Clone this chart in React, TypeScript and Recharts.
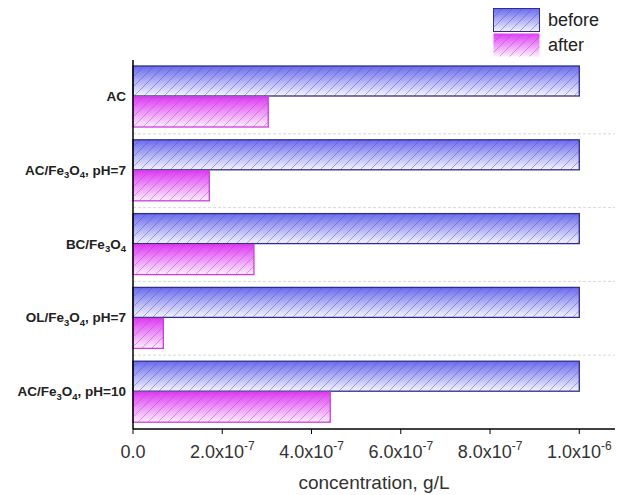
import React from "react";
import { BarChart, Bar, XAxis, YAxis, CartesianGrid, Legend } from "recharts";

// category names, "_n" marks a subscript digit
const categories = ["AC", "AC/Fe_3O_4, pH=7", "BC/Fe_3O_4", "OL/Fe_3O_4, pH=7", "AC/Fe_3O_4, pH=10"];
const beforeValues = [1.0e-6, 1.0e-6, 1.0e-6, 1.0e-6, 1.0e-6];
const afterValues = [3.03e-7, 1.71e-7, 2.71e-7, 0.68e-7, 4.42e-7];
const xTicks = [0, 2e-7, 4e-7, 6e-7, 8e-7, 1e-6];
const seriesNames = ["before", "after"];

const FONT = "Arial, 'Liberation Sans', sans-serif";

const data = categories.map((name, i) => ({
    name,
    before: beforeValues[i],
    after: afterValues[i],
}));

// x tick: 2.0x10^-7 style
const XTick = (props: any) => {
    const { x, y, payload } = props;
    const v = payload.value as number;
    if (v === 0) {
        return (
            <text x={x} y={y + 22} textAnchor="middle" fontSize={18} fill="#333" fontFamily={FONT}>
                0.0
            </text>
        );
    }
    const [m, e] = v.toExponential(1).split("e");
    return (
        <text x={x} y={y + 22} textAnchor="middle" fontSize={18} fill="#333" fontFamily={FONT}>
            <tspan>{m}x10</tspan>
            <tspan dy={-8} fontSize={12}>{String(Number(e))}</tspan>
        </text>
    );
};

// y tick with subscripts
const YTick = (props: any) => {
    const { x, y, payload } = props;
    const parts = String(payload.value).split(/(_\d)/).filter((p) => p !== "");
    let shifted = false;
    return (
        <text x={x} y={y + 4} textAnchor="end" fontSize={13.5} fontWeight="bold" fill="#222" fontFamily={FONT}>
            {parts.map((p, i) => {
                if (p.startsWith("_")) {
                    const dy = shifted ? 0 : 3.5;
                    shifted = true;
                    return (
                        <tspan key={i} dy={dy} fontSize={9.5}>{p.slice(1)}</tspan>
                    );
                }
                const dy = shifted ? -3.5 : 0;
                shifted = false;
                return (
                    <tspan key={i} dy={dy}>{p}</tspan>
                );
            })}
        </text>
    );
};

const makeShape = (grad: string, hatch: string, stroke: string) => (props: any) => {
    const { x, y, width, height } = props;
    if (!width || width <= 0) return <g />;
    return (
        <g>
            <rect x={x} y={y} width={width} height={height} fill={`url(#${grad})`} />
            <rect x={x} y={y} width={width} height={height} fill={`url(#${hatch})`} />
            <rect x={x} y={y} width={width} height={height} fill="none" stroke={stroke} strokeWidth={1.3} />
        </g>
    );
};

const Defs = ({ suffix }: { suffix: string }) => (
    <defs>
        <linearGradient id={"gBefore" + suffix} x1="0" y1="0" x2="0" y2="1">
            <stop offset="0%" stopColor="#6b6bf0" />
            <stop offset="100%" stopColor="#f4f4ff" />
        </linearGradient>
        <linearGradient id={"gAfter" + suffix} x1="0" y1="0" x2="0" y2="1">
            <stop offset="0%" stopColor="#e03cf6" />
            <stop offset="100%" stopColor="#fdeeff" />
        </linearGradient>
        <pattern id={"hBefore" + suffix} patternUnits="userSpaceOnUse" width={10} height={10}>
            <path d="M-1,1 l2,-2 M0,10 l10,-10 M9,11 l2,-2" stroke="#5a5a8a" strokeWidth={0.7} strokeOpacity={0.7} />
        </pattern>
        <pattern id={"hAfter" + suffix} patternUnits="userSpaceOnUse" width={10} height={10}>
            <path d="M-1,1 l2,-2 M0,10 l10,-10 M9,11 l2,-2" stroke="#9a5aa8" strokeWidth={0.7} strokeOpacity={0.7} />
        </pattern>
    </defs>
);

const legendStyles = [
    { grad: "gBeforeL", hatch: "hBeforeL", stroke: "#2e2e8c" },
    { grad: "gAfterL", hatch: "hAfterL", stroke: "#d03ce0" },
];

const renderLegend = () => (
    <div style={{ fontFamily: FONT, fontSize: 18, color: "#222" }}>
        {seriesNames.map((n, i) => (
            <div key={n} style={{ display: "flex", alignItems: "center", height: 25 }}>
                <svg width={48} height={25} style={{ display: "block" }}>
                    <Defs suffix="L" />
                    <rect x={0.5} y={0.5} width={46} height={23} fill={`url(#${legendStyles[i].grad})`} />
                    <rect x={0.5} y={0.5} width={46} height={23} fill={`url(#${legendStyles[i].hatch})`} />
                    {i === 0 && (
                        <rect x={0.5} y={0.5} width={46} height={23} fill="none" stroke={legendStyles[i].stroke} strokeWidth={1} />
                    )}
                </svg>
                <span style={{ marginLeft: 7, lineHeight: "25px" }}>{n}</span>
            </div>
        ))}
    </div>
);

// dashed separators between categories, taken from the y scale
const separators = (props: any) => {
    const scale = props?.yAxis?.scale;
    if (!scale) return [];
    let fn: ((v: any) => number) | null = null;
    if (typeof scale === "function") fn = scale;
    else if (typeof scale.map === "function") fn = (v: any) => scale.map(v);
    else if (typeof scale.scale === "function") fn = (v: any) => scale.scale(v);
    if (!fn) return [];
    return categories
        .slice(1)
        .map((c) => Number(fn!(c)))
        .filter((v: number) => Number.isFinite(v));
};

const App: React.FC = () => {
    return (
        <div style={{ position: "absolute", left: 0, top: 0, background: "#fff" }}>
            <BarChart
                width={623}
                height={495}
                data={data}
                layout="vertical"
                margin={{ top: 60, right: 8, left: 8, bottom: 6 }}
                barGap={1}
            >
                <Defs suffix="" />
                <CartesianGrid
                    vertical={false}
                    stroke="#d8d8d8"
                    strokeDasharray="3 2"
                    horizontalCoordinatesGenerator={separators}
                />
                <XAxis
                    type="number"
                    domain={[0, 1.08e-6]}
                    ticks={xTicks}
                    tick={XTick}
                    tickSize={5}
                    tickLine={{ stroke: "#000" }}
                    axisLine={{ stroke: "#000", strokeWidth: 1.5 }}
                    height={60}
                    label={{
                        value: "concentration, g/L",
                        position: "insideBottom",
                        offset: 0,
                        style: { fontSize: 19, fill: "#333", fontFamily: FONT },
                    }}
                />
                <YAxis
                    type="category"
                    dataKey="name"
                    width={125}
                    tickLine={false}
                    tickSize={0}
                    tickMargin={7}
                    tick={YTick}
                    axisLine={{ stroke: "#000", strokeWidth: 1.5 }}
                />
                <Legend
                    content={renderLegend}
                    layout="vertical"
                    align="center"
                    verticalAlign="middle"
                    wrapperStyle={{ top: 8, left: 493, width: 130 }}
                />
                <Bar
                    dataKey="before"
                    name={seriesNames[0]}
                    barSize={30}
                    shape={makeShape("gBefore", "hBefore", "#2e2e8c")}
                    isAnimationActive={false}
                />
                <Bar
                    dataKey="after"
                    name={seriesNames[1]}
                    barSize={30}
                    shape={makeShape("gAfter", "hAfter", "#d03ce0")}
                    isAnimationActive={false}
                />
            </BarChart>
        </div>
    );
};

export default App;
